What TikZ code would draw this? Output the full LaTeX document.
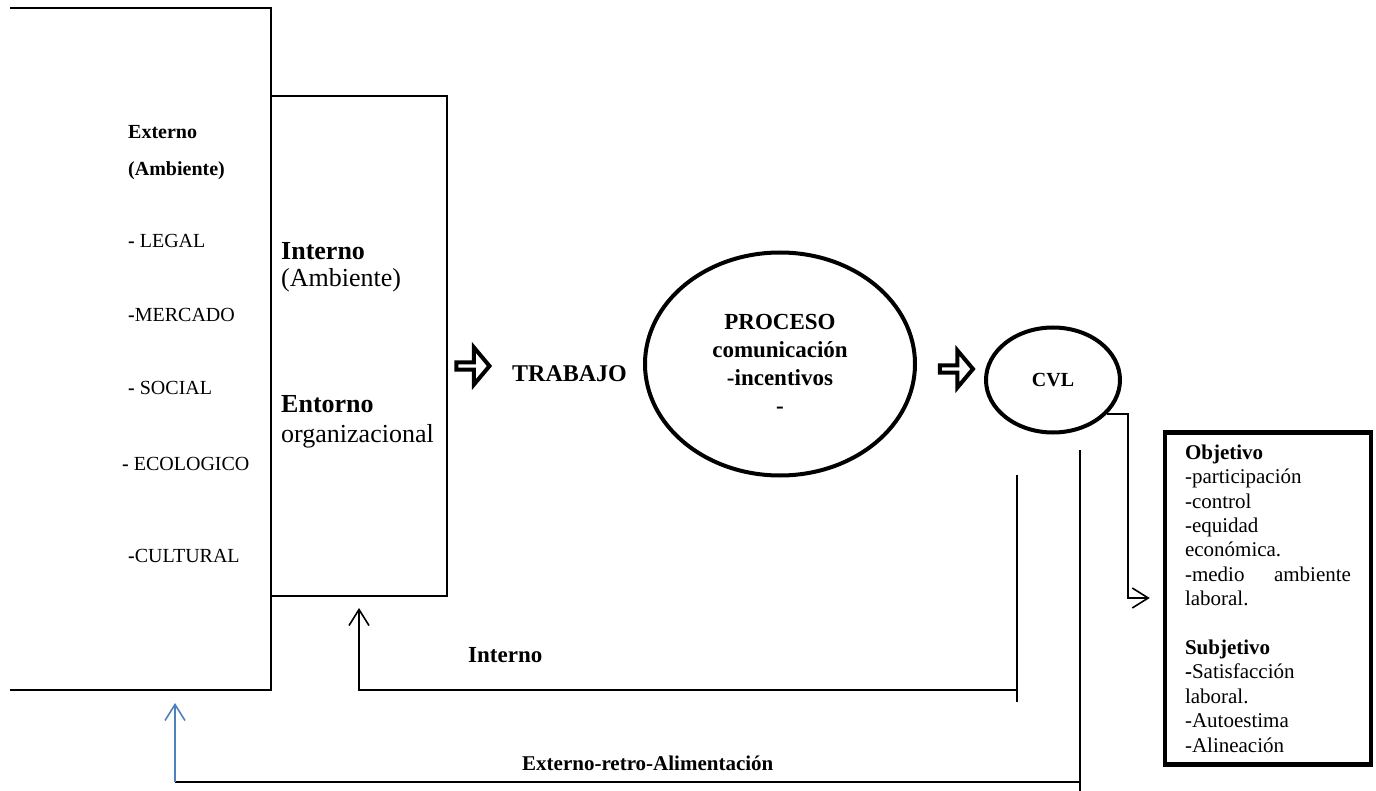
\documentclass[tikz,border=0pt]{standalone}
\usepackage{fontspec}
\setmainfont{Liberation Serif}
\usetikzlibrary{shapes.geometric,shapes.arrows,arrows.meta}
\definecolor{retroazul}{RGB}{79,129,189}

\tikzset{%
        fase/.style={
                ellipse,
                draw,
                line width=4pt,
                align=center
            },
        flecha/.style={
                single arrow,
                draw,
                line width=4pt,
                minimum width=37pt,
                minimum height=33pt,
                single arrow head extend=8.5pt,
                single arrow tip angle=100,
                inner sep=0pt
            },
        etiq/.style={
                anchor=base west,
                inner sep=0pt
            },
        retro/.style={
                line width=1.6pt,
                ->
            }
    }

\begin{document}
\begin{tikzpicture}[x=1pt, y=-1pt, >={Straight Barb[length=16pt,width=20pt]}]
    \useasboundingbox (0,0) rectangle (1376,791);

    % ambiente externo:
        \coordinate (extnw) at (10,8);
        \coordinate (extsw) at (10,690);
        \draw[line width=2pt] (extnw) -| (271,690) -- (extsw);
        \node [etiq, font=\fontsize{20}{24}\selectfont\bfseries] (e1) at (128,139) {Externo};
        \node [etiq, font=\fontsize{20}{24}\selectfont\bfseries] (e2) at (128,176) {(Ambiente)};
        \node [etiq, font=\fontsize{20}{24}\selectfont] (e3) at (128,248) {\textbf{-} LEGAL};
        \node [etiq, font=\fontsize{20}{24}\selectfont] (e4) at (128,322) {\textbf{-}MERCADO};
        \node [etiq, font=\fontsize{20}{24}\selectfont] (e5) at (128,395) {\textbf{-} SOCIAL};
        \node [etiq, font=\fontsize{20}{24}\selectfont] (e6) at (122,470) {\textbf{-} ECOLOGICO};
        \node [etiq, font=\fontsize{20}{24}\selectfont] (e7) at (128,562) {\textbf{-}CULTURAL};

    % ambiente interno:
        \node [draw, line width=2pt, minimum width=176pt, minimum height=500pt, inner sep=0pt] (int) at (359,346) {};
        \node [etiq, font=\fontsize{26}{28}\selectfont\bfseries] (i1) at (281,260) {Interno};
        \node [etiq, font=\fontsize{26}{28}\selectfont] (i2) at (281,287) {(Ambiente)};
        \node [etiq, font=\fontsize{26}{28}\selectfont\bfseries] (i3) at (281,413) {Entorno};
        \node [etiq, font=\fontsize{26}{28}\selectfont] (i4) at (281,442) {organizacional};

    % trabajo, proceso y CVL:
        \node [flecha] (f1) at (471.5,366) {};
        \node [etiq, font=\fontsize{24}{28}\selectfont\bfseries] (tr) at (512,382) {TRABAJO};
        \node [fase, minimum width=270pt, minimum height=223pt, font=\fontsize{23}{28}\selectfont\bfseries] (proc) at (780,364) {PROCESO\\ comunicación\\ -incentivos\\ -};
        \node [flecha] (f2) at (955,369) {};
        \node [fase, minimum width=134pt, minimum height=105pt, font=\fontsize{20}{24}\selectfont\bfseries] (cvl) at (1053,380) {CVL};

    % resultados:
        \node [draw, line width=4.5pt, minimum width=206pt, minimum height=332pt, inner sep=0pt, align=left, font=\fontsize{21}{24.4}\selectfont] (res) at (1268,598.5) {\textbf{Objetivo}\\ -participación\\ -control\\ -equidad\\ económica.\\ \makebox[166pt][l]{-medio\hfill ambiente}\\ laboral.\\[24.4pt] \textbf{Subjetivo}\\ \textbf{-}Satisfacción\\ laboral.\\ -Autoestima\\ -Alineación};
        \coordinate (bend) at (1128,598);
        \draw[retro] (cvl.-32) -| (bend) -- ([xshift=-13pt]res.west |- bend);

    % retroalimentacion interna:
        \coordinate (ia) at (1017,475);
        \coordinate (ib) at (1017,702);
        \coordinate (ic) at (1017,690);
        \draw[line width=1.6pt] (ia) -- (ib);
        \draw[retro] (ic) -| ([yshift=-11pt]int.south);
        \node [etiq, font=\fontsize{23}{28}\selectfont\bfseries] (li) at (468,662) {Interno};

    % retroalimentacion externa:
        \coordinate (ea) at (1080,450);
        \coordinate (eb) at (1080,791);
        \coordinate (ec) at (1080,782);
        \coordinate (ed) at (175,782);
        \coordinate (ee) at (175,703);
        \draw[line width=1.6pt] (ea) -- (eb);
        \draw[line width=1.6pt] (ec) -- (ed);
        \draw[retro, retroazul] (ed) -- (ee);
        \node [etiq, font=\fontsize{21}{25}\selectfont\bfseries] (le) at (522,770) {Externo-retro-Alimentación};
    \end{tikzpicture}
\end{document}
